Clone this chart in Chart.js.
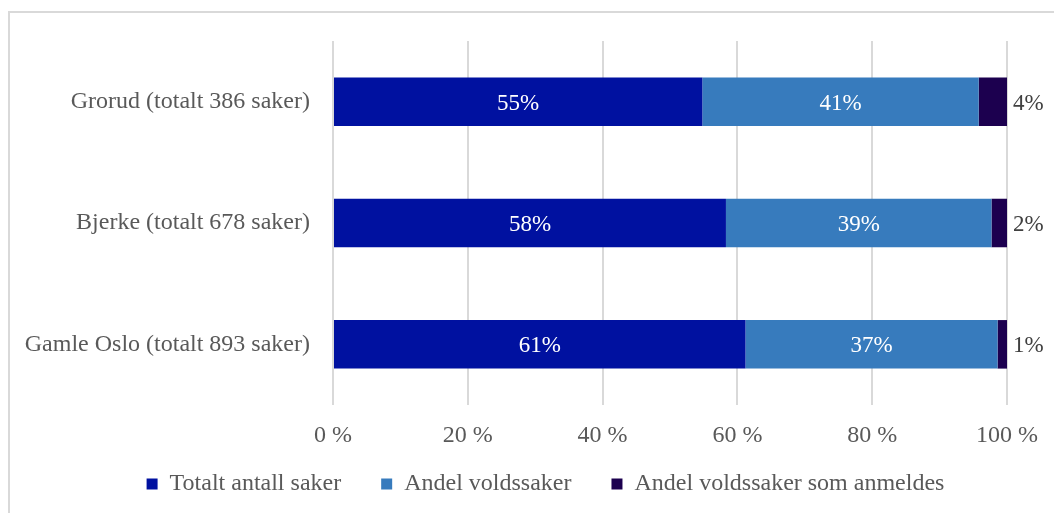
<!DOCTYPE html>
<html>
<head>
<meta charset="utf-8">
<script src="https://cdn.jsdelivr.net/npm/chart.js@4.4.1/dist/chart.umd.min.js"></script>
<style>
  html, body { margin: 0; padding: 0; background: #fff; overflow: hidden; }
  #frame { position: absolute; left: 8px; top: 11px; width: 1100px; height: 600px; border: 2px solid #d9d9d9; box-sizing: border-box; }
  #wrap { position: absolute; left: 0; top: 0; width: 1054px; height: 513px; }
</style>
</head>
<body>
<div id="frame"></div>
<div id="wrap"><canvas id="myChart" width="1054" height="513"></canvas></div>
<script>
    var categories = ['Grorud (totalt 386 saker)', 'Bjerke (totalt 678 saker)', 'Gamle Oslo (totalt 893 saker)'];
    var seriesNames = ['Totalt antall saker', 'Andel voldssaker', 'Andel voldssaker som anmeldes'];
    var totalt = [54.8, 58.3, 61.2];
    var volds = [41.0, 39.4, 37.4];
    var anmeldes = [4.2, 2.3, 1.4];
    var xTicks = [0, 20, 40, 60, 80, 100];
    var myColors = ['#0011A0', '#377BBD', '#1C004F'];

    var fontFamily = "'Liberation Serif', 'Times New Roman', serif";

    // value labels: white inside the first two segments, grey outside the last one
    var barLabels = {
        id: 'barLabels',
        afterLayout: function (chart) {
            // legend sits a bit right of centre, x tick labels need room below the axis box
            chart.legend.left = 84;
            chart.scales.x.bottom = chart.scales.x.top + 50;
        },
        afterDatasetsDraw: function (chart) {
            var ctx = chart.ctx;
            ctx.save();
            ctx.font = '23px ' + fontFamily;
            ctx.textBaseline = 'middle';
            chart.data.datasets.forEach(function (ds, i) {
                var meta = chart.getDatasetMeta(i);
                meta.data.forEach(function (bar, j) {
                    var txt = Math.round(ds.data[j]) + '%';
                    if (i < 2) {
                        ctx.fillStyle = '#ffffff';
                        ctx.textAlign = 'center';
                        ctx.fillText(txt, (bar.x + bar.base) / 2, bar.y + 2);
                    } else {
                        ctx.fillStyle = '#404040';
                        ctx.textAlign = 'left';
                        ctx.fillText(txt, bar.x + 6, bar.y + 2);
                    }
                });
            });
            ctx.restore();
        }
    };

    var ctx = document.getElementById('myChart').getContext('2d');
    var myNewChart = new Chart(ctx, {
        type: 'bar',
        data: {
            labels: categories,
            datasets: [
                { label: seriesNames[0], data: totalt, backgroundColor: myColors[0] },
                { label: seriesNames[1], data: volds, backgroundColor: myColors[1] },
                { label: seriesNames[2], data: anmeldes, backgroundColor: myColors[2] }
            ]
        },
        options: {
            indexAxis: 'y',
            responsive: false,
            animation: false,
            barPercentage: 0.4,
            categoryPercentage: 1,
            layout: { padding: { left: 0, right: 47, top: 41, bottom: 7 } },
            scales: {
                x: {
                    stacked: true,
                    min: 0,
                    max: 100,
                    afterBuildTicks: function (scale) {
                        scale.ticks = xTicks.map(function (v) { return { value: v }; });
                    },
                    afterFit: function (scale) { scale.height = 27; },
                    grid: { color: '#d9d9d9', lineWidth: 2, drawTicks: false },
                    border: { display: false },
                    ticks: {
                        padding: 16,
                        color: '#595959',
                        font: { family: fontFamily, size: 24 },
                        callback: function (v) { return v + ' %'; }
                    }
                },
                y: {
                    stacked: true,
                    afterFit: function (scale) { scale.width = 333; },
                    grid: { display: false, drawTicks: false },
                    border: { display: false },
                    ticks: {
                        padding: 23,
                        color: '#595959',
                        font: { family: fontFamily, size: 24 }
                    }
                }
            },
            plugins: {
                tooltip: { enabled: false },
                legend: {
                    position: 'bottom',
                    labels: {
                        boxWidth: 11,
                        boxHeight: 11,
                        padding: 40,
                        color: '#595959',
                        font: { family: fontFamily, size: 24 }
                    }
                }
            }
        },
        plugins: [barLabels]
    });
</script>
</body>
</html>
